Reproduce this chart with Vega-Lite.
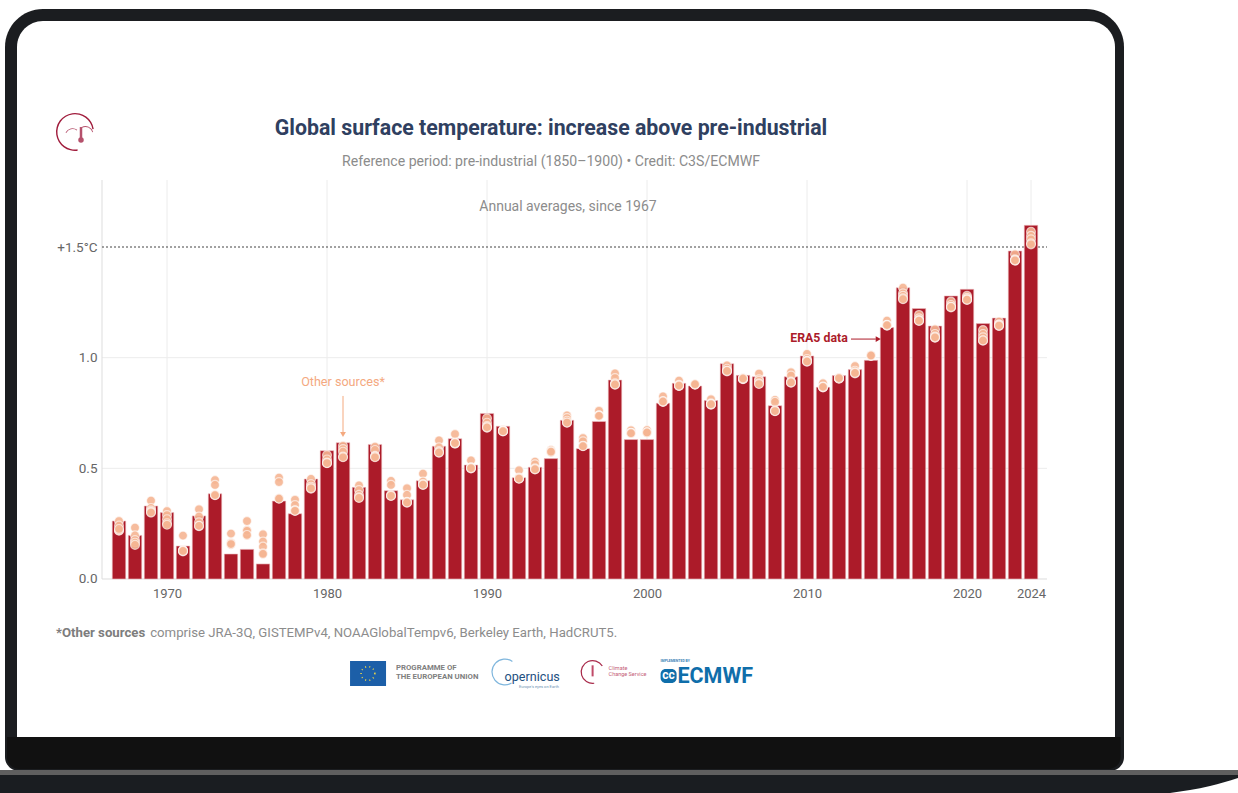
{
  "$schema": "https://vega.github.io/schema/vega-lite/v6.json",
  "width": 1238,
  "height": 793,
  "padding": 0,
  "autosize": "none",
  "background": "white",
  "view": {"stroke": null},
  "config": {"font": "Roboto"},
  "data": {"values": [{}]},
  "datasets": {
    "era5": [
      {"year":1967,"anomaly":0.262},{"year":1968,"anomaly":0.197},{"year":1969,"anomaly":0.33},{"year":1970,"anomaly":0.30},
      {"year":1971,"anomaly":0.149},{"year":1972,"anomaly":0.285},{"year":1973,"anomaly":0.385},{"year":1974,"anomaly":0.113},
      {"year":1975,"anomaly":0.134},{"year":1976,"anomaly":0.068},{"year":1977,"anomaly":0.352},{"year":1978,"anomaly":0.295},
      {"year":1979,"anomaly":0.452},{"year":1980,"anomaly":0.58},{"year":1981,"anomaly":0.616},{"year":1982,"anomaly":0.414},
      {"year":1983,"anomaly":0.608},{"year":1984,"anomaly":0.399},{"year":1985,"anomaly":0.358},{"year":1986,"anomaly":0.444},
      {"year":1987,"anomaly":0.60},{"year":1988,"anomaly":0.634},{"year":1989,"anomaly":0.515},{"year":1990,"anomaly":0.748},
      {"year":1991,"anomaly":0.69},{"year":1992,"anomaly":0.458},{"year":1993,"anomaly":0.505},{"year":1994,"anomaly":0.544},
      {"year":1995,"anomaly":0.717},{"year":1996,"anomaly":0.589},{"year":1997,"anomaly":0.712},{"year":1998,"anomaly":0.899},
      {"year":1999,"anomaly":0.63},{"year":2000,"anomaly":0.63},{"year":2001,"anomaly":0.794},{"year":2002,"anomaly":0.884},
      {"year":2003,"anomaly":0.872},{"year":2004,"anomaly":0.806},{"year":2005,"anomaly":0.973},{"year":2006,"anomaly":0.92},
      {"year":2007,"anomaly":0.914},{"year":2008,"anomaly":0.783},{"year":2009,"anomaly":0.914},{"year":2010,"anomaly":1.008},
      {"year":2011,"anomaly":0.866},{"year":2012,"anomaly":0.919},{"year":2013,"anomaly":0.946},{"year":2014,"anomaly":0.988},
      {"year":2015,"anomaly":1.136},{"year":2016,"anomaly":1.316},{"year":2017,"anomaly":1.222},{"year":2018,"anomaly":1.143},
      {"year":2019,"anomaly":1.279},{"year":2020,"anomaly":1.309},{"year":2021,"anomaly":1.154},{"year":2022,"anomaly":1.179},
      {"year":2023,"anomaly":1.482},{"year":2024,"anomaly":1.598}
    ],
    "others": [
      {"year":1967,"anomaly":0.262},{"year":1967,"anomaly":0.241},{"year":1967,"anomaly":0.218},{"year":1967,"anomaly":0.221},{"year":1967,"anomaly":0.226},
      {"year":1968,"anomaly":0.232},{"year":1968,"anomaly":0.197},{"year":1968,"anomaly":0.176},{"year":1968,"anomaly":0.164},{"year":1968,"anomaly":0.154},
      {"year":1969,"anomaly":0.354},{"year":1969,"anomaly":0.321},{"year":1969,"anomaly":0.309},{"year":1969,"anomaly":0.303},{"year":1969,"anomaly":0.30},
      {"year":1970,"anomaly":0.307},{"year":1970,"anomaly":0.289},{"year":1970,"anomaly":0.27},{"year":1970,"anomaly":0.252},{"year":1970,"anomaly":0.245},
      {"year":1971,"anomaly":0.196},{"year":1971,"anomaly":0.131},{"year":1971,"anomaly":0.128},{"year":1971,"anomaly":0.125},{"year":1971,"anomaly":0.127},
      {"year":1972,"anomaly":0.315},{"year":1972,"anomaly":0.282},{"year":1972,"anomaly":0.256},{"year":1972,"anomaly":0.239},{"year":1972,"anomaly":0.24},
      {"year":1973,"anomaly":0.447},{"year":1973,"anomaly":0.425},{"year":1973,"anomaly":0.38},{"year":1973,"anomaly":0.381},{"year":1973,"anomaly":0.379},
      {"year":1974,"anomaly":0.205},{"year":1974,"anomaly":0.164},{"year":1974,"anomaly":0.155},{"year":1974,"anomaly":0.161},{"year":1974,"anomaly":0.158},
      {"year":1975,"anomaly":0.262},{"year":1975,"anomaly":0.221},{"year":1975,"anomaly":0.196},{"year":1975,"anomaly":0.218},{"year":1975,"anomaly":0.199},
      {"year":1976,"anomaly":0.202},{"year":1976,"anomaly":0.169},{"year":1976,"anomaly":0.146},{"year":1976,"anomaly":0.116},{"year":1976,"anomaly":0.113},
      {"year":1977,"anomaly":0.458},{"year":1977,"anomaly":0.438},{"year":1977,"anomaly":0.364},{"year":1977,"anomaly":0.365},{"year":1977,"anomaly":0.363},
      {"year":1978,"anomaly":0.358},{"year":1978,"anomaly":0.334},{"year":1978,"anomaly":0.31},{"year":1978,"anomaly":0.309},{"year":1978,"anomaly":0.308},
      {"year":1979,"anomaly":0.452},{"year":1979,"anomaly":0.429},{"year":1979,"anomaly":0.417},{"year":1979,"anomaly":0.408},{"year":1979,"anomaly":0.41},
      {"year":1980,"anomaly":0.56},{"year":1980,"anomaly":0.54},{"year":1980,"anomaly":0.526},{"year":1980,"anomaly":0.523},{"year":1980,"anomaly":0.524},
      {"year":1981,"anomaly":0.602},{"year":1981,"anomaly":0.587},{"year":1981,"anomaly":0.575},{"year":1981,"anomaly":0.553},{"year":1981,"anomaly":0.55},
      {"year":1982,"anomaly":0.423},{"year":1982,"anomaly":0.402},{"year":1982,"anomaly":0.38},{"year":1982,"anomaly":0.369},{"year":1982,"anomaly":0.366},
      {"year":1983,"anomaly":0.598},{"year":1983,"anomaly":0.583},{"year":1983,"anomaly":0.556},{"year":1983,"anomaly":0.553},{"year":1983,"anomaly":0.55},
      {"year":1984,"anomaly":0.443},{"year":1984,"anomaly":0.425},{"year":1984,"anomaly":0.38},{"year":1984,"anomaly":0.375},{"year":1984,"anomaly":0.376},
      {"year":1985,"anomaly":0.41},{"year":1985,"anomaly":0.38},{"year":1985,"anomaly":0.349},{"year":1985,"anomaly":0.345},{"year":1985,"anomaly":0.346},
      {"year":1986,"anomaly":0.476},{"year":1986,"anomaly":0.44},{"year":1986,"anomaly":0.429},{"year":1986,"anomaly":0.425},{"year":1986,"anomaly":0.426},
      {"year":1987,"anomaly":0.626},{"year":1987,"anomaly":0.595},{"year":1987,"anomaly":0.578},{"year":1987,"anomaly":0.571},{"year":1987,"anomaly":0.572},
      {"year":1988,"anomaly":0.655},{"year":1988,"anomaly":0.616},{"year":1988,"anomaly":0.613},{"year":1988,"anomaly":0.612},{"year":1988,"anomaly":0.614},
      {"year":1989,"anomaly":0.536},{"year":1989,"anomaly":0.505},{"year":1989,"anomaly":0.503},{"year":1989,"anomaly":0.50},{"year":1989,"anomaly":0.501},
      {"year":1990,"anomaly":0.726},{"year":1990,"anomaly":0.706},{"year":1990,"anomaly":0.691},{"year":1990,"anomaly":0.684},{"year":1990,"anomaly":0.685},
      {"year":1991,"anomaly":0.673},{"year":1991,"anomaly":0.67},{"year":1991,"anomaly":0.669},{"year":1991,"anomaly":0.667},{"year":1991,"anomaly":0.668},
      {"year":1992,"anomaly":0.491},{"year":1992,"anomaly":0.458},{"year":1992,"anomaly":0.455},{"year":1992,"anomaly":0.453},{"year":1992,"anomaly":0.454},
      {"year":1993,"anomaly":0.53},{"year":1993,"anomaly":0.518},{"year":1993,"anomaly":0.50},{"year":1993,"anomaly":0.495},{"year":1993,"anomaly":0.496},
      {"year":1994,"anomaly":0.583},{"year":1994,"anomaly":0.578},{"year":1994,"anomaly":0.574},{"year":1994,"anomaly":0.572},{"year":1994,"anomaly":0.575},
      {"year":1995,"anomaly":0.739},{"year":1995,"anomaly":0.727},{"year":1995,"anomaly":0.715},{"year":1995,"anomaly":0.706},{"year":1995,"anomaly":0.707},
      {"year":1996,"anomaly":0.637},{"year":1996,"anomaly":0.622},{"year":1996,"anomaly":0.602},{"year":1996,"anomaly":0.601},{"year":1996,"anomaly":0.60},
      {"year":1997,"anomaly":0.76},{"year":1997,"anomaly":0.739},{"year":1997,"anomaly":0.738},{"year":1997,"anomaly":0.736},{"year":1997,"anomaly":0.737},
      {"year":1998,"anomaly":0.929},{"year":1998,"anomaly":0.908},{"year":1998,"anomaly":0.884},{"year":1998,"anomaly":0.878},{"year":1998,"anomaly":0.879},
      {"year":1999,"anomaly":0.672},{"year":1999,"anomaly":0.661},{"year":1999,"anomaly":0.658},{"year":1999,"anomaly":0.657},{"year":1999,"anomaly":0.659},
      {"year":2000,"anomaly":0.673},{"year":2000,"anomaly":0.663},{"year":2000,"anomaly":0.661},{"year":2000,"anomaly":0.66},{"year":2000,"anomaly":0.662},
      {"year":2001,"anomaly":0.825},{"year":2001,"anomaly":0.804},{"year":2001,"anomaly":0.801},{"year":2001,"anomaly":0.80},{"year":2001,"anomaly":0.802},
      {"year":2002,"anomaly":0.896},{"year":2002,"anomaly":0.877},{"year":2002,"anomaly":0.873},{"year":2002,"anomaly":0.872},{"year":2002,"anomaly":0.874},
      {"year":2003,"anomaly":0.881},{"year":2003,"anomaly":0.88},{"year":2003,"anomaly":0.879},{"year":2003,"anomaly":0.878},{"year":2003,"anomaly":0.88},
      {"year":2004,"anomaly":0.812},{"year":2004,"anomaly":0.794},{"year":2004,"anomaly":0.789},{"year":2004,"anomaly":0.788},{"year":2004,"anomaly":0.79},
      {"year":2005,"anomaly":0.965},{"year":2005,"anomaly":0.95},{"year":2005,"anomaly":0.941},{"year":2005,"anomaly":0.938},{"year":2005,"anomaly":0.94},
      {"year":2006,"anomaly":0.908},{"year":2006,"anomaly":0.905},{"year":2006,"anomaly":0.904},{"year":2006,"anomaly":0.903},{"year":2006,"anomaly":0.906},
      {"year":2007,"anomaly":0.928},{"year":2007,"anomaly":0.902},{"year":2007,"anomaly":0.895},{"year":2007,"anomaly":0.884},{"year":2007,"anomaly":0.881},
      {"year":2008,"anomaly":0.809},{"year":2008,"anomaly":0.80},{"year":2008,"anomaly":0.762},{"year":2008,"anomaly":0.758},{"year":2008,"anomaly":0.759},
      {"year":2009,"anomaly":0.934},{"year":2009,"anomaly":0.919},{"year":2009,"anomaly":0.892},{"year":2009,"anomaly":0.887},{"year":2009,"anomaly":0.888},
      {"year":2010,"anomaly":1.017},{"year":2010,"anomaly":0.994},{"year":2010,"anomaly":0.986},{"year":2010,"anomaly":0.982},{"year":2010,"anomaly":0.983},
      {"year":2011,"anomaly":0.884},{"year":2011,"anomaly":0.869},{"year":2011,"anomaly":0.867},{"year":2011,"anomaly":0.866},{"year":2011,"anomaly":0.868},
      {"year":2012,"anomaly":0.91},{"year":2012,"anomaly":0.907},{"year":2012,"anomaly":0.906},{"year":2012,"anomaly":0.905},{"year":2012,"anomaly":0.908},
      {"year":2013,"anomaly":0.962},{"year":2013,"anomaly":0.941},{"year":2013,"anomaly":0.934},{"year":2013,"anomaly":0.929},{"year":2013,"anomaly":0.931},
      {"year":2014,"anomaly":1.012},{"year":2014,"anomaly":1.011},{"year":2014,"anomaly":1.009},{"year":2014,"anomaly":1.008},{"year":2014,"anomaly":1.01},
      {"year":2015,"anomaly":1.167},{"year":2015,"anomaly":1.148},{"year":2015,"anomaly":1.146},{"year":2015,"anomaly":1.145},{"year":2015,"anomaly":1.147},
      {"year":2016,"anomaly":1.316},{"year":2016,"anomaly":1.291},{"year":2016,"anomaly":1.279},{"year":2016,"anomaly":1.268},{"year":2016,"anomaly":1.264},
      {"year":2017,"anomaly":1.193},{"year":2017,"anomaly":1.178},{"year":2017,"anomaly":1.17},{"year":2017,"anomaly":1.166},{"year":2017,"anomaly":1.167},
      {"year":2018,"anomaly":1.128},{"year":2018,"anomaly":1.107},{"year":2018,"anomaly":1.095},{"year":2018,"anomaly":1.09},{"year":2018,"anomaly":1.092},
      {"year":2019,"anomaly":1.253},{"year":2019,"anomaly":1.238},{"year":2019,"anomaly":1.23},{"year":2019,"anomaly":1.227},{"year":2019,"anomaly":1.229},
      {"year":2020,"anomaly":1.279},{"year":2020,"anomaly":1.27},{"year":2020,"anomaly":1.264},{"year":2020,"anomaly":1.261},{"year":2020,"anomaly":1.262},
      {"year":2021,"anomaly":1.125},{"year":2021,"anomaly":1.107},{"year":2021,"anomaly":1.092},{"year":2021,"anomaly":1.077},{"year":2021,"anomaly":1.078},
      {"year":2022,"anomaly":1.163},{"year":2022,"anomaly":1.151},{"year":2022,"anomaly":1.148},{"year":2022,"anomaly":1.143},{"year":2022,"anomaly":1.145},
      {"year":2023,"anomaly":1.467},{"year":2023,"anomaly":1.444},{"year":2023,"anomaly":1.441},{"year":2023,"anomaly":1.438},{"year":2023,"anomaly":1.44},
      {"year":2024,"anomaly":1.569},{"year":2024,"anomaly":1.55},{"year":2024,"anomaly":1.535},{"year":2024,"anomaly":1.517},{"year":2024,"anomaly":1.512}
    ],
    "gridYears": [{"year":1970},{"year":1980},{"year":1990},{"year":2000},{"year":2010},{"year":2020},{"year":2024}],
    "gridLevels": [{"level":0.5},{"level":1.0}],
    "baseEdge": [{"u":2032.69,"v":-0.9669},{"u":2033.94,"v":-0.9533},{"u":2035.19,"v":-0.9353},{"u":2036.94,"v":-0.8991}]
  },
  "layer": [
    {
      "description": "laptop body",
      "mark": {"type": "rect", "fill": "#1b1d20", "cornerRadiusTopLeft": 38, "cornerRadiusTopRight": 38, "cornerRadiusBottomLeft": 14, "cornerRadiusBottomRight": 14},
      "encoding": {
        "x": {"datum": 1959.875, "type": "quantitative",
          "scale": {"domain": [1959.5625, 2036.9375], "nice": false, "zero": false, "padding": 0},
          "axis": {"title": null, "values": [1970,1980,1990,2000,2010,2020,2024], "format": "d", "offset": -214, "zindex": 1,
            "domain": false, "ticks": false, "grid": false, "labelFont": "Roboto", "labelFontSize": 13, "labelColor": "#666666", "labelPadding": 8, "labelOverlap": false}},
        "x2": {"datum": 2029.8125},
        "y": {"datum": 2.5753, "type": "quantitative",
          "scale": {"domain": [-0.9669, 2.616], "nice": false, "zero": false, "padding": 0},
          "axis": {"title": null, "values": [0,0.5,1,1.5], "offset": -100, "zindex": 1,
            "labelExpr": "datum.value == 1.5 ? '+1.5°C' : format(datum.value, '.1f')",
            "domain": false, "ticks": false, "grid": false, "labelFont": "Roboto", "labelFontSize": 13.5, "labelColor": "#666666", "labelPadding": 3}},
        "y2": {"datum": -0.8675}
      }
    },
    {
      "description": "chin below the screen",
      "mark": {"type": "rect", "fill": "#111111", "cornerRadiusBottomLeft": 12, "cornerRadiusBottomRight": 12},
      "encoding": {"x": {"datum": 1960.0, "type": "quantitative"}, "x2": {"datum": 2029.6}, "y": {"datum": -0.7139, "type": "quantitative"}, "y2": {"datum": -0.8584}}
    },
    {
      "description": "screen",
      "mark": {"type": "rect", "fill": "white", "cornerRadiusTopLeft": 26, "cornerRadiusTopRight": 26},
      "encoding": {"x": {"datum": 1960.625, "type": "quantitative"}, "x2": {"datum": 2029.25}, "y": {"datum": 2.5211, "type": "quantitative"}, "y2": {"datum": -0.7139}}
    },
    {
      "description": "hinge band",
      "mark": {"type": "rect", "fill": "#5f5f5f"},
      "encoding": {"x": {"datum": 1959.5625, "type": "quantitative"}, "x2": {"datum": 2036.9375}, "y": {"datum": -0.863, "type": "quantitative"}, "y2": {"datum": -0.8855}}
    },
    {
      "description": "laptop base",
      "mark": {"type": "rect", "fill": "#1a1d21"},
      "encoding": {"x": {"datum": 1959.5625, "type": "quantitative"}, "x2": {"datum": 2036.9375}, "y": {"datum": -0.8855, "type": "quantitative"}, "y2": {"datum": -0.9669}}
    },
    {
      "description": "curved front corner of the base",
      "data": {"name": "baseEdge"},
      "mark": {"type": "area", "fill": "white", "interpolate": "monotone"},
      "encoding": {"x": {"field": "u", "type": "quantitative"}, "y": {"field": "v", "type": "quantitative"}, "y2": {"datum": -0.9669}}
    },
    {
      "description": "vertical gridlines",
      "data": {"name": "gridYears"},
      "mark": {"type": "rule", "color": "#ececec", "strokeWidth": 1},
      "encoding": {"x": {"field": "year", "type": "quantitative"}, "y": {"datum": 1.8027, "type": "quantitative"}, "y2": {"datum": 0}}
    },
    {
      "description": "horizontal gridlines",
      "data": {"name": "gridLevels"},
      "mark": {"type": "rule", "color": "#ececec", "strokeWidth": 1},
      "encoding": {"y": {"field": "level", "type": "quantitative"}, "x": {"datum": 1965.9375, "type": "quantitative"}, "x2": {"datum": 2025}}
    },
    {
      "description": "left edge of the plot",
      "mark": {"type": "rule", "color": "#dddddd", "strokeWidth": 1},
      "encoding": {"x": {"datum": 1965.9375, "type": "quantitative"}, "y": {"datum": 1.8027, "type": "quantitative"}, "y2": {"datum": 0}}
    },
    {
      "description": "zero baseline",
      "mark": {"type": "rule", "color": "#dddddd", "strokeWidth": 1},
      "encoding": {"y": {"datum": 0, "type": "quantitative"}, "x": {"datum": 1965.9375, "type": "quantitative"}, "x2": {"datum": 2025}}
    },
    {
      "description": "+1.5 degree threshold",
      "mark": {"type": "rule", "color": "#444444", "strokeWidth": 1, "strokeDash": [2, 2]},
      "encoding": {"y": {"datum": 1.5, "type": "quantitative"}, "x": {"datum": 1965.9375, "type": "quantitative"}, "x2": {"datum": 2025}}
    },
    {
      "description": "ERA5 annual averages",
      "data": {"name": "era5"},
      "mark": {"type": "bar", "width": 13.5, "fill": "#ac1b29", "stroke": "#eec3c5", "strokeWidth": 0.6},
      "encoding": {"x": {"field": "year", "type": "quantitative"}, "y": {"field": "anomaly", "type": "quantitative"}, "y2": {"datum": 0}}
    },
    {
      "description": "other data sources",
      "data": {"name": "others"},
      "mark": {"type": "point", "filled": true, "fill": "#f5b592", "fillOpacity": 0.9, "stroke": "#ffffff", "strokeOpacity": 0.6, "strokeWidth": 1.2, "size": 80},
      "encoding": {"x": {"field": "year", "type": "quantitative"}, "y": {"field": "anomaly", "type": "quantitative"}}
    },
    {
      "description": "title",
      "mark": {"type": "text", "text": "Global surface temperature: increase above pre-industrial", "font": "Roboto", "fontWeight": "bold", "fontSize": 21.3, "fill": "#2f4060", "align": "center", "baseline": "middle"},
      "encoding": {"x": {"datum": 1994.0, "type": "quantitative"}, "y": {"datum": 2.031, "type": "quantitative"}}
    },
    {
      "description": "subtitle",
      "mark": {"type": "text", "text": "Reference period: pre-industrial (1850–1900) • Credit: C3S/ECMWF", "font": "Roboto", "fontSize": 14.1, "fill": "#8c8c8c", "align": "center", "baseline": "middle"},
      "encoding": {"x": {"datum": 1994.0, "type": "quantitative"}, "y": {"datum": 1.884, "type": "quantitative"}}
    },
    {
      "description": "panel heading",
      "mark": {"type": "text", "text": "Annual averages, since 1967", "font": "Roboto", "fontSize": 14, "fill": "#8c8c8c", "align": "center", "baseline": "middle"},
      "encoding": {"x": {"datum": 1995.06, "type": "quantitative"}, "y": {"datum": 1.681, "type": "quantitative"}}
    },
    {
      "description": "other sources annotation",
      "mark": {"type": "text", "text": "Other sources*", "font": "Roboto", "fontSize": 12.6, "fill": "#f4a97f", "align": "center", "baseline": "middle"},
      "encoding": {"x": {"datum": 1981, "type": "quantitative"}, "y": {"datum": 0.888, "type": "quantitative"}}
    },
    {
      "mark": {"type": "rule", "color": "#f4a97f", "strokeWidth": 1},
      "encoding": {"x": {"datum": 1981, "type": "quantitative"}, "y": {"datum": 0.827, "type": "quantitative"}, "y2": {"datum": 0.655}}
    },
    {
      "mark": {"type": "point", "shape": "triangle-down", "filled": true, "fill": "#f4a97f", "opacity": 1, "size": 34},
      "encoding": {"x": {"datum": 1981, "type": "quantitative"}, "y": {"datum": 0.653, "type": "quantitative"}}
    },
    {
      "description": "ERA5 annotation",
      "mark": {"type": "text", "text": "ERA5 data", "font": "Roboto", "fontWeight": "bold", "fontSize": 12.3, "fill": "#ac1b29", "align": "center", "baseline": "middle"},
      "encoding": {"x": {"datum": 2010.75, "type": "quantitative"}, "y": {"datum": 1.088, "type": "quantitative"}}
    },
    {
      "mark": {"type": "rule", "color": "#ac1b29", "strokeWidth": 1},
      "encoding": {"y": {"datum": 1.084, "type": "quantitative"}, "x": {"datum": 2012.75, "type": "quantitative"}, "x2": {"datum": 2014.3}}
    },
    {
      "mark": {"type": "point", "shape": "triangle-right", "filled": true, "fill": "#ac1b29", "opacity": 1, "size": 34},
      "encoding": {"x": {"datum": 2014.45, "type": "quantitative"}, "y": {"datum": 1.084, "type": "quantitative"}}
    },
    {
      "description": "footnote",
      "mark": {"type": "text", "text": "*Other sources", "font": "Roboto", "fontWeight": "bold", "fontSize": 13.2, "fill": "#7d7d7d", "align": "left", "baseline": "middle"},
      "encoding": {"x": {"datum": 1963.06, "type": "quantitative"}, "y": {"datum": -0.243, "type": "quantitative"}}
    },
    {
      "mark": {"type": "text", "text": "comprise JRA-3Q, GISTEMPv4, NOAAGlobalTempv6, Berkeley Earth, HadCRUT5.", "font": "Roboto", "fontSize": 13.2, "fill": "#8c8c8c", "align": "left", "baseline": "middle"},
      "encoding": {"x": {"datum": 1968.95, "type": "quantitative"}, "y": {"datum": -0.243, "type": "quantitative"}}
    },
    {
      "description": "EU flag",
      "mark": {"type": "rect", "fill": "#1c5fa8"},
      "encoding": {"x": {"datum": 1981.44, "type": "quantitative"}, "x2": {"datum": 1983.69}, "y": {"datum": -0.371, "type": "quantitative"}, "y2": {"datum": -0.484}}
    },
    {
      "mark": {"type": "point", "shape": "circle", "filled": false, "stroke": "#e8d44a", "strokeWidth": 1.6, "strokeDash": [1, 3.2], "size": 190, "opacity": 1},
      "encoding": {"x": {"datum": 1982.56, "type": "quantitative"}, "y": {"datum": -0.427, "type": "quantitative"}}
    },
    {
      "mark": {"type": "text", "text": "PROGRAMME OF", "font": "Roboto", "fontWeight": "bold", "fontSize": 7.8, "fill": "#808080", "align": "left", "baseline": "middle"},
      "encoding": {"x": {"datum": 1984.31, "type": "quantitative"}, "y": {"datum": -0.40, "type": "quantitative"}}
    },
    {
      "mark": {"type": "text", "text": "THE EUROPEAN UNION", "font": "Roboto", "fontWeight": "bold", "fontSize": 7.8, "fill": "#808080", "align": "left", "baseline": "middle"},
      "encoding": {"x": {"datum": 1984.31, "type": "quantitative"}, "y": {"datum": -0.443, "type": "quantitative"}}
    },
    {
      "description": "Copernicus mark",
      "mark": {"type": "arc", "radius": 13.5, "radius2": 12.3, "theta": 2.6, "theta2": 6.9, "fill": "#7fb6dd"},
      "encoding": {"x": {"datum": 1991.12, "type": "quantitative"}, "y": {"datum": -0.42, "type": "quantitative"}}
    },
    {
      "mark": {"type": "text", "text": "opernicus", "font": "Roboto", "fontSize": 12.6, "fill": "#23507f", "align": "left", "baseline": "middle"},
      "encoding": {"x": {"datum": 1991.1, "type": "quantitative"}, "y": {"datum": -0.443, "type": "quantitative"}}
    },
    {
      "mark": {"type": "text", "text": "Europe's eyes on Earth", "font": "Roboto", "fontSize": 4, "fill": "#6f93b3", "align": "left", "baseline": "middle"},
      "encoding": {"x": {"datum": 1992.0, "type": "quantitative"}, "y": {"datum": -0.486, "type": "quantitative"}}
    },
    {
      "description": "Climate Change Service mark",
      "mark": {"type": "arc", "radius": 12, "radius2": 10.8, "theta": 3.0, "theta2": 7.3, "fill": "#a82a4a"},
      "encoding": {"x": {"datum": 1996.6, "type": "quantitative"}, "y": {"datum": -0.42, "type": "quantitative"}}
    },
    {
      "mark": {"type": "rule", "color": "#c04a68", "strokeWidth": 2},
      "encoding": {"x": {"datum": 1996.6, "type": "quantitative"}, "y": {"datum": -0.39, "type": "quantitative"}, "y2": {"datum": -0.44}}
    },
    {
      "mark": {"type": "text", "text": "Climate", "font": "Roboto", "fontSize": 5.5, "fill": "#c45d78", "align": "left", "baseline": "middle"},
      "encoding": {"x": {"datum": 1997.6, "type": "quantitative"}, "y": {"datum": -0.40, "type": "quantitative"}}
    },
    {
      "mark": {"type": "text", "text": "Change Service", "font": "Roboto", "fontSize": 5.5, "fill": "#c45d78", "align": "left", "baseline": "middle"},
      "encoding": {"x": {"datum": 1997.6, "type": "quantitative"}, "y": {"datum": -0.43, "type": "quantitative"}}
    },
    {
      "description": "ECMWF mark",
      "mark": {"type": "text", "text": "IMPLEMENTED BY", "font": "Roboto", "fontWeight": "bold", "fontSize": 3.5, "fill": "#3c7fb5", "align": "left", "baseline": "middle"},
      "encoding": {"x": {"datum": 2000.85, "type": "quantitative"}, "y": {"datum": -0.372, "type": "quantitative"}}
    },
    {
      "mark": {"type": "rect", "fill": "#0f6eaa", "cornerRadius": 5},
      "encoding": {"x": {"datum": 2000.85, "type": "quantitative"}, "x2": {"datum": 2001.85}, "y": {"datum": -0.407, "type": "quantitative"}, "y2": {"datum": -0.47}}
    },
    {
      "mark": {"type": "text", "text": "cc", "font": "Roboto", "fontWeight": "bold", "fontSize": 12, "fill": "white", "align": "center", "baseline": "middle"},
      "encoding": {"x": {"datum": 2001.35, "type": "quantitative"}, "y": {"datum": -0.436, "type": "quantitative"}}
    },
    {
      "mark": {"type": "text", "text": "ECMWF", "font": "Roboto", "fontWeight": "bold", "fontSize": 21.5, "fill": "#0f6eaa", "align": "left", "baseline": "middle"},
      "encoding": {"x": {"datum": 2001.9, "type": "quantitative"}, "y": {"datum": -0.444, "type": "quantitative"}}
    },
    {
      "description": "service emblem beside the title",
      "mark": {"type": "arc", "radius": 19, "radius2": 17.6, "theta": 3.0, "theta2": 7.7, "fill": "#a01c3c"},
      "encoding": {"x": {"datum": 1964.25, "type": "quantitative"}, "y": {"datum": 2.02, "type": "quantitative"}}
    },
    {
      "mark": {"type": "arc", "radius": 8, "radius2": 7.2, "theta": 5.2, "theta2": 6.9, "fill": "#b5516c"},
      "encoding": {"x": {"datum": 1964.1, "type": "quantitative"}, "y": {"datum": 2.0, "type": "quantitative"}}
    },
    {
      "mark": {"type": "arc", "radius": 8, "radius2": 7.2, "theta": 5.8, "theta2": 7.6, "fill": "#b5516c"},
      "encoding": {"x": {"datum": 1964.9, "type": "quantitative"}, "y": {"datum": 2.01, "type": "quantitative"}}
    },
    {
      "mark": {"type": "rule", "color": "#b5516c", "strokeWidth": 2.5},
      "encoding": {"x": {"datum": 1964.625, "type": "quantitative"}, "y": {"datum": 2.042, "type": "quantitative"}, "y2": {"datum": 1.99}}
    },
    {
      "mark": {"type": "point", "filled": true, "fill": "#b5516c", "opacity": 1, "size": 30},
      "encoding": {"x": {"datum": 1964.625, "type": "quantitative"}, "y": {"datum": 1.983, "type": "quantitative"}}
    }
  ]
}
